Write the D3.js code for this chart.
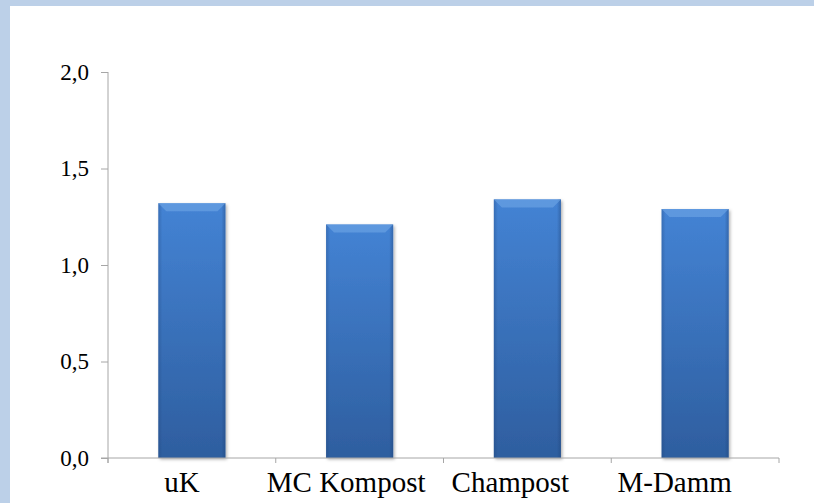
<!DOCTYPE html>
<html>
<head>
<meta charset="utf-8">
<script src="https://cdn.jsdelivr.net/npm/d3@7"></script>
<style>
  html, body { margin: 0; padding: 0; background: #fff; }
  svg { display: block; }
</style>
</head>
<body>
<div id="chart"></div>
<script>
// chart data
var categories = ["uK", "MC Kompost", "Champost", "M-Damm"];
var values = [1.32, 1.21, 1.34, 1.29];
var yTicks = [0, 0.5, 1.0, 1.5, 2.0];

var width = 814,
    height = 503;
var serif = "'Liberation Serif', 'Times New Roman', serif";

var svg = d3.select("#chart")
    .append("svg")
    .attr("width", width)
    .attr("height", height);

var defs = svg.append("defs");

// light blue frame left + top
svg.append("rect")
    .attr("width", width).attr("height", height)
    .attr("fill", "#bcd0e8");
svg.append("rect")
    .attr("x", 10).attr("y", 6)
    .attr("width", width - 10).attr("height", height - 6)
    .attr("fill", "#fff");

// bar gradients
var barGrad = defs.append("linearGradient")
    .attr("id", "barFill")
    .attr("x1", 0).attr("y1", 0).attr("x2", 0).attr("y2", 1);
barGrad.append("stop").attr("offset", "0%").attr("stop-color", "#4483d4");
barGrad.append("stop").attr("offset", "100%").attr("stop-color", "#2e5e9f");

var sideGrad = defs.append("linearGradient")
    .attr("id", "barSide")
    .attr("x1", 0).attr("y1", 0).attr("x2", 1).attr("y2", 0);
sideGrad.append("stop").attr("offset", "0%").attr("stop-color", "#1d3f72").attr("stop-opacity", 0.3);
sideGrad.append("stop").attr("offset", "6%").attr("stop-color", "#1d3f72").attr("stop-opacity", 0);
sideGrad.append("stop").attr("offset", "94%").attr("stop-color", "#1d3f72").attr("stop-opacity", 0);
sideGrad.append("stop").attr("offset", "100%").attr("stop-color", "#1d3f72").attr("stop-opacity", 0.4);

var shadow = defs.append("filter")
    .attr("id", "shadow")
    .attr("x", "-20%").attr("y", "-20%").attr("width", "140%").attr("height", "140%");
shadow.append("feDropShadow")
    .attr("dx", 1.5).attr("dy", 1.5).attr("stdDeviation", 1.5)
    .attr("flood-color", "#000").attr("flood-opacity", 0.3);

var margin = {left: 108, right: 35, top: 72, bottom: 45};

var x = d3.scaleBand()
    .domain(categories)
    .range([margin.left, width - margin.right])
    .paddingInner(0.6)
    .paddingOuter(0.3);

var xOuter = d3.scaleBand()
    .domain(categories)
    .range([margin.left, width - margin.right]);

var y = d3.scaleLinear()
    .domain([0, 2])
    .range([height - margin.bottom, margin.top]);

var fmt = function (d) { return d3.format(".1f")(d).replace(".", ","); };

// y axis
var yAxis = svg.append("g")
    .attr("transform", "translate(" + margin.left + ",0)")
    .call(d3.axisLeft(y).tickValues(yTicks).tickSize(7).tickSizeOuter(0).tickPadding(12).tickFormat(fmt));
yAxis.select(".domain").attr("stroke", "#a6a6a6").attr("d", "M0," + (y(0) + 5) + "V" + y(2));
yAxis.selectAll(".tick line").attr("stroke", "#a6a6a6");
yAxis.selectAll("text")
    .style("font-family", serif)
    .style("font-size", "23px")
    .attr("fill", "#000");

// bars
var bars = svg.selectAll(".bar")
    .data(values)
    .enter()
    .append("g")
    .attr("class", "bar");

bars.append("rect")
    .attr("x", (d, i) => x(categories[i]))
    .attr("y", (d) => y(d))
    .attr("width", x.bandwidth())
    .attr("height", (d) => y(0) - y(d))
    .attr("fill", "url(#barFill)")
    .attr("filter", "url(#shadow)");

bars.append("rect")
    .attr("x", (d, i) => x(categories[i]))
    .attr("y", (d) => y(d))
    .attr("width", x.bandwidth())
    .attr("height", (d) => y(0) - y(d))
    .attr("fill", "url(#barSide)");

// top bevel
bars.append("path")
    .attr("d", function (d, i) {
        var x0 = x(categories[i]), x1 = x0 + x.bandwidth(), t = y(d), b = 8;
        return "M" + x0 + "," + t + "L" + x1 + "," + t + "L" + (x1 - b) + "," + (t + b) + "L" + (x0 + b) + "," + (t + b) + "Z";
    })
    .attr("fill", "#6fa6e6")
    .attr("opacity", 0.6);

// x axis
var xAxis = svg.append("g")
    .attr("transform", "translate(0," + y(0) + ")");
xAxis.append("line")
    .attr("x1", margin.left - 7).attr("x2", width - margin.right)
    .attr("stroke", "#a6a6a6");
xAxis.selectAll(".xtick")
    .data(categories.concat(["end"]))
    .enter()
    .append("line")
    .attr("x1", (d, i) => i < categories.length ? xOuter(d) : width - margin.right)
    .attr("x2", (d, i) => i < categories.length ? xOuter(d) : width - margin.right)
    .attr("y1", 0).attr("y2", 5)
    .attr("stroke", "#a6a6a6");
// labels sit a little left of the band centres in the original
xAxis.selectAll(".xlabel")
    .data(categories)
    .enter()
    .append("text")
    .attr("x", (d, i) => xOuter(d) + xOuter.bandwidth() / 2 - 10 - i * 3.5)
    .attr("y", 34)
    .attr("text-anchor", "middle")
    .style("font-family", serif)
    .style("font-size", "29px")
    .attr("fill", "#000")
    .text((d) => d);
</script>
</body>
</html>
